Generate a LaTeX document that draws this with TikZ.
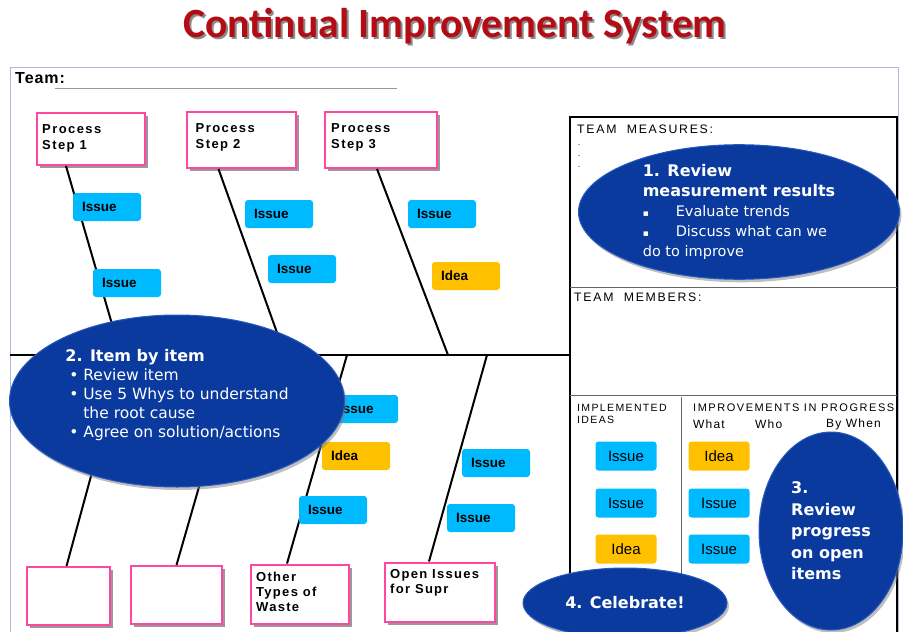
\documentclass[tikz,border=0pt]{standalone}
\usepackage{fontspec}
\setmainfont{Liberation Sans}
\newfontfamily\titlefont{Carlito}
\newfontfamily\ovalfont{DejaVu Sans}
\usetikzlibrary{shapes.geometric,shadows}

\definecolor{titlered}{RGB}{180,12,20}
\definecolor{boxpink}{RGB}{255,70,160}
\definecolor{issuecyan}{RGB}{0,186,255}
\definecolor{ideaorange}{RGB}{255,192,0}
\definecolor{ovalblue}{RGB}{10,58,158}
\definecolor{ovalrim}{RGB}{40,90,190}
\definecolor{framegrey}{RGB}{170,185,215}

\newcommand\ovalhead{\ovalfont\bfseries\fontsize{16}{21}\selectfont}
\newcommand\ovalbullet[1]{\makebox[#1][l]{\fontsize{9}{9}\selectfont▪}}

\begin{document}
\begin{tikzpicture}[x=1pt, y=-1pt,
    stepbox/.style = {draw=boxpink, line width=2pt, fill=white, inner sep=0pt,
        drop shadow={shadow xshift=3pt, shadow yshift=-3pt, fill=black!40, opacity=1}},
    steptext/.style = {anchor=north west, align=left, inner xsep=6pt, inner ysep=12pt,
        font=\bfseries\addfontfeature{LetterSpace=11}\fontsize{13}{16}\selectfont},
    issue/.style = {fill=issuecyan, rounded corners=3pt, minimum height=28pt, text width=50pt,
        inner xsep=9pt, align=left, font=\bfseries\fontsize{13.5}{15}\selectfont},
    idea/.style = {issue, fill=ideaorange},
    card/.style = {fill=issuecyan, rounded corners=3pt, minimum width=61pt, minimum height=29pt,
        inner sep=0pt, font=\fontsize{15}{17}\selectfont},
    cardidea/.style = {card, fill=ideaorange},
    oval/.style = {ellipse, fill=ovalblue, draw=ovalrim, line width=1pt, inner sep=0pt,
        text=white, align=left, font=\ovalfont\fontsize{14.5}{20}\selectfont,
        drop shadow={shadow xshift=2pt, shadow yshift=-3pt, fill=black!50, opacity=0.5}},
    bone/.style = {line width=2pt},
    header/.style = {inner sep=0pt, anchor=west,
        font=\addfontfeature{LetterSpace=14}\fontsize{11}{13}\selectfont},
    wastetext/.style = {steptext, inner ysep=8pt,
        font=\bfseries\addfontfeature{LetterSpace=10}\fontsize{13}{15}\selectfont}
]
    \useasboundingbox (0,0) rectangle (903,632);

    % title
    \node[font=\titlefont\bfseries\fontsize{41.6}{44}\selectfont, text=black!45] (titleshadow) at (457,28) {Continual Improvement System};
    \node[font=\titlefont\bfseries\fontsize{41.6}{44}\selectfont, text=titlered] (title) at (455,26) {Continual Improvement System};

    % sheet
    \draw[framegrey, line width=1pt] (10,650) -- (10,67) -- (898,67) -- (898,650);
    \node[anchor=west, inner sep=0pt, font=\bfseries\addfontfeature{LetterSpace=6}\fontsize{16}{18}\selectfont] (team) at (15,78) {Team:};
    \coordinate (teamend) at (397,88);
    \draw[black!40, line width=1pt] (team.south east |- teamend) ++(-10,0) -- (teamend);

    % right panel
    \draw[line width=1.5pt] (570,640) -- (570,117) -- (897,117) -- (897,640);
    \draw[black!60, line width=1pt] (570,287) -- (897,287);
    \draw[black!60, line width=1pt] (570,395) -- (897,395);
    \draw[black!60, line width=1pt] (681,397) -- (681,640);
    \node[header, font=\addfontfeature{LetterSpace=14}\fontsize{12.3}{14}\selectfont] (measures) at (577,129) {TEAM\ \ MEASURES:};
    \node[anchor=north west, inner sep=0pt, align=left, font=\fontsize{6}{11}\selectfont] (dashes) at (578,144) {-\\-\\-};
    \node[header, font=\addfontfeature{LetterSpace=14}\fontsize{12.3}{14}\selectfont] (members) at (574,297) {TEAM\ \ MEMBERS:};
    \node[header, anchor=north west, align=left, font=\addfontfeature{LetterSpace=13}\fontsize{10.5}{12}\selectfont] (implemented) at (577,404) {IMPLEMENTED\\IDEAS};
    \node[header] (progress) at (693,408) {IMPROVEMENTS IN PROGRESS:};
    \node[header, font=\addfontfeature{LetterSpace=10}\fontsize{12}{14}\selectfont] (what) at (693,424) {What};
    \node[header, font=\addfontfeature{LetterSpace=10}\fontsize{12}{14}\selectfont] (who) at (755,424) {Who};
    \node[header, font=\addfontfeature{LetterSpace=10}\fontsize{12}{14}\selectfont] (bywhen) at (826,424) {By When};

    % spine and bones
    \coordinate (head) at (570,355);
    \draw[line width=2.5pt] (10,355) -- (head);
    \coordinate (j1) at (121,355);
    \coordinate (j2) at (285,355);
    \coordinate (j3) at (448,355);
    \coordinate (j4) at (124,355);
    \coordinate (j5) at (237,355);
    \coordinate (j6) at (347,355);
    \coordinate (j7) at (487,355);

    \node[stepbox, minimum width=108pt, minimum height=52pt, label={[steptext]north west:Process\\Step 1}] (p1) at (91,139) {};
    \node[stepbox, minimum width=109pt, minimum height=56pt, label={[steptext, inner xsep=10pt]north west:Process\\Step 2}] (p2) at (241,140) {};
    \node[stepbox, minimum width=112pt, minimum height=56pt, label={[steptext, inner xsep=7pt]north west:Process\\Step 3}] (p3) at (381,140) {};
    \node[stepbox, minimum width=83pt, minimum height=58pt] (b1) at (68,596) {};
    \node[stepbox, minimum width=91pt, minimum height=58pt] (b2) at (176,595) {};
    \node[stepbox, minimum width=98pt, minimum height=59pt, label={[wastetext]north west:Other\\Types of\\Waste}] (b3) at (300,594) {};
    \node[stepbox, minimum width=110pt, minimum height=59pt, label={[wastetext]north west:Open Issues\\for Supr}] (b4) at (440,592) {};

    \draw[bone] ([xshift=30pt]p1.south west) -- (j1);
    \draw[bone] ([xshift=33pt]p2.south west) -- (j2);
    \draw[bone] ([xshift=53pt]p3.south west) -- (j3);
    \draw[bone] ([xshift=41pt]b1.north west) -- (j4);
    \draw[bone] ([xshift=47pt]b2.north west) -- (j5);
    \draw[bone] ([xshift=37pt]b3.north west) -- (j6);
    \draw[bone] ([xshift=45pt]b4.north west) -- (j7);

    % issues and ideas on the bones
    \node[issue] (i1) at (107,207) {Issue};
    \node[issue] (i2) at (127,283) {Issue};
    \node[issue] (i3) at (279,214) {Issue};
    \node[issue] (i4) at (302,269) {Issue};
    \node[issue] (i5) at (442,214) {Issue};
    \node[idea] (d1) at (466,276) {Idea};
    \node[issue] (i6) at (364,409) {Issue};
    \node[idea] (d2) at (356,456) {Idea};
    \node[issue] (i7) at (333,510) {Issue};
    \node[issue] (i8) at (496,463) {Issue};
    \node[issue] (i9) at (481,518) {Issue};

    % cards in the panel
    \node[card] (c1) at (626,456) {Issue};
    \node[card] (c2) at (626,503) {Issue};
    \node[cardidea] (c3) at (626,549) {Idea};
    \node[cardidea] (c4) at (719,456) {Idea};
    \node[card] (c5) at (719,503) {Issue};
    \node[card] (c6) at (719,549) {Issue};

    % steps
    \node[oval, minimum width=321pt, minimum height=134pt] (review) at (739,212) {\ovalhead 1. Review\\\ovalhead measurement results\\\ovalbullet{33pt}Evaluate trends\\\ovalbullet{33pt}Discuss what can we\\do to improve};
    \node[oval, minimum width=335pt, minimum height=172pt, text depth=16pt, font=\ovalfont\fontsize{15.5}{19}\selectfont] (items) at (177,401) {\ovalhead 2. Item by item\\\hspace*{4pt}\makebox[14pt][l]{•}Review item\\\hspace*{4pt}\makebox[14pt][l]{•}Use 5 Whys to understand\\\hspace*{18pt}the root cause\\\hspace*{4pt}\makebox[14pt][l]{•}Agree on solution/actions};
    \node[oval, minimum width=144pt, minimum height=198pt, font=\ovalfont\bfseries\fontsize{16}{21.5}\selectfont] (progressoval) at (831,531) {3.\\Review\\progress\\on open\\items};
    \node[oval, minimum width=204pt, minimum height=70pt, font=\ovalfont\bfseries\fontsize{16}{20}\selectfont] (celebrate) at (625,603) {4. Celebrate!};
\end{tikzpicture}
\end{document}
